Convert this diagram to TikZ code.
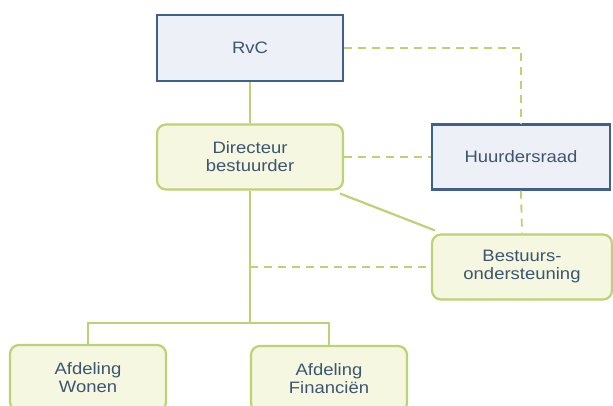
\documentclass[tikz,border=0pt]{standalone}
\usepackage{fontspec}
\setmainfont{Liberation Sans}[FakeStretch=1.12]
\usepackage{xcolor}
\usetikzlibrary{positioning}

\definecolor{boardblue}{HTML}{3F5F8C}
\definecolor{boardfill}{HTML}{EEF0F7}
\definecolor{leafgreen}{HTML}{BDD274}
\definecolor{leaffill}{HTML}{F5F7E0}
\definecolor{labeltext}{HTML}{3D5570}

\begin{document}
\begin{tikzpicture}[
  x=1pt, y=-1pt,
  board/.style={rectangle, draw=boardblue, fill=boardfill, line width=2.2pt, align=center, text=labeltext, font=\fontsize{16.5}{18}\selectfont},
  unit/.style={rectangle, draw=leafgreen, fill=leaffill, rounded corners=9pt, line width=2.2pt, align=center, text=labeltext, font=\fontsize{16.5}{18}\selectfont},
  link/.style={draw=leafgreen, line width=2.2pt},
  advice/.style={draw=leafgreen, line width=1.9pt, dash pattern=on 8pt off 6pt}
]
\clip (0,0) rectangle (613,405);
\fill[white] (0,0) rectangle (613,405);

\node[board, minimum width=186pt, minimum height=66pt] (rvc) at (250,48) {RvC};
\node[unit, minimum width=186pt, minimum height=65pt] (dir) at (250,157) {Directeur\\bestuurder};
\node[board, minimum width=178pt, minimum height=65pt] (huur) at (521,157) {Huurdersraad};
\node[unit, minimum width=180pt, minimum height=65pt] (best) at (522,267) {Bestuurs-\\ondersteuning};
\node[unit, minimum width=156pt, minimum height=66pt] (wonen) at (88,378) {Afdeling\\Wonen};
\node[unit, minimum width=156pt, minimum height=66pt] (fin) at (329,379) {Afdeling\\Financiën};

\coordinate (fork) at (250,323);
\coordinate (tap) at (dir.south |- best.west);

\draw[link] (rvc) -- (dir);
\draw[link] (dir.south) -- (fork);
\draw[link] (wonen.north) |- (fork) -| (fin.north);
\draw[link] ([shift={(-4pt,-3pt)}]dir.south east) -- ([shift={(4pt,3pt)}]best.north west);

\draw[advice] (rvc.east) -| (huur.north);
\draw[advice] (dir.east) -- (huur.west);
\draw[advice] (huur.south) -- (best.north);
\draw[advice] (tap) -- (best.west);
\end{tikzpicture}
\end{document}
